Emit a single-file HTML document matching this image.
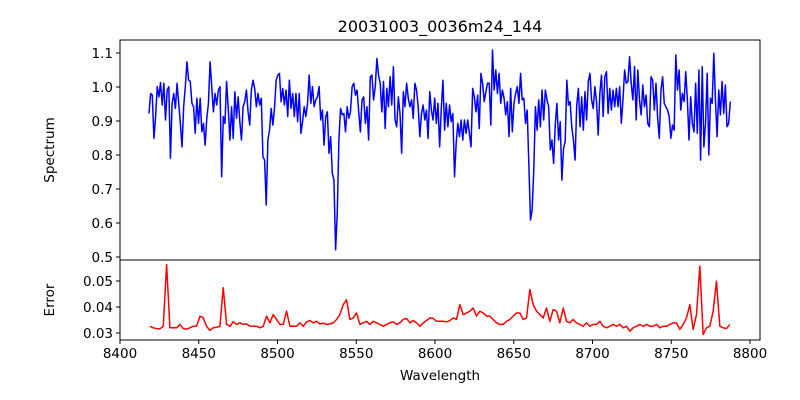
<!DOCTYPE html>
<html><head><meta charset="utf-8"><style>
html,body{margin:0;padding:0;background:#fff;}
svg{display:block;font-family:"DejaVu Sans","Liberation Sans",sans-serif;}
</style></head><body>
<svg id="chart" width="800" height="400" viewBox="0 0 800 400" xmlns="http://www.w3.org/2000/svg">
<rect width="800" height="400" fill="#fff"/>
<text x="440" y="32" font-size="16" text-anchor="middle">20031003_0036m24_144</text>
<text transform="translate(54,150) rotate(-90)" font-size="13.5" text-anchor="middle">Spectrum</text>
<text transform="translate(54,300) rotate(-90)" font-size="13.5" text-anchor="middle">Error</text>
<text x="440" y="380" font-size="13.5" text-anchor="middle">Wavelength</text>
<g id="g"></g>
</svg>
<script>
const specStart = 8418.4, specEnd = 8787.5;
const specValues = [
.922,.981,.976,.849,.913,1.001,.971,1.013,.947,1.011,.903,.991,1.001,.790,.952,.981,.937,1.011,.952,.893,.824,.942,1.001,1.074,1.020,1.016,.952,.942,.864,.967,.893,.967,.868,.893,.829,.908,.952,1.074,1.001,.927,.981,.947,.991,1.001,.736,.913,.893,1.016,.937,.844,.942,.849,.986,.908,.971,.898,.844,.942,.957,.991,.927,.888,.991,1.020,.996,.942,.981,.947,.967,.795,.785,.653,.844,.873,.937,.888,.937,1.020,1.035,1.040,.957,.996,.947,.991,.913,1.020,.937,.981,.913,.981,.898,.981,.864,.898,.942,.913,.952,1.035,.952,1.001,.942,.962,.971,1.001,.903,.932,.829,.913,.927,.805,
.854,.746,.726,.521,.628,.844,.937,.918,.922,.868,.942,.908,.927,1.001,1.011,.976,.991,.927,.868,.962,.971,.893,.942,.844,1.030,1.035,.962,1.001,1.084,1.035,1.011,.927,1.016,.878,.996,.942,1.030,.947,1.060,.903,.883,.971,.922,.805,.986,.942,1.011,.967,.942,.962,.908,1.011,.991,.942,.854,.922,.947,.903,.932,.849,.986,.932,.903,.967,.893,.952,.824,.937,1.020,.873,.952,.883,.947,.898,.922,.736,.834,.893,.854,.903,.844,.903,.864,.903,.864,.824,.996,.971,.927,.976,.878,1.040,1.011,.957,.986,1.011,1.011,.888,1.109,.991,1.050,.981,1.040,.952,.991,.967,.918,.957,.854,.996,.868,.952,.981,1.001,.952,1.040,.962,.967,.893,.932,.775,.609,.638,.756,.942,.873,.962,.883,.991,.903,.991,.962,
.942,.815,.844,.775,.888,.952,.844,.898,.726,.819,.839,1.020,.947,.957,.883,.844,.785,.947,.996,.883,.971,.873,.986,.903,1.016,1.040,.962,.937,1.001,.957,.859,.981,1.035,.913,1.030,1.045,.922,.996,.932,.991,.942,.996,.942,1.001,.893,.962,1.050,1.011,1.016,1.089,1.011,.962,1.060,.903,1.050,.962,.918,1.006,.942,.976,.893,.883,1.030,1.020,.932,1.011,.908,.849,.991,1.030,.952,.942,.932,.913,.849,.888,.873,1.094,.991,1.050,.932,.981,.957,1.045,.962,.844,.971,.893,.868,1.011,.864,1.050,.785,1.060,.824,.893,1.040,.800,.967,.952,1.099,.962,.854,.991,.918,1.016,.922,1.006,.883,.893,.957];
const errStart = 8419.0, errStep = 2.116;
const errValues = [
.0326,.0320,.0317,.0316,.0326,.0563,.0320,.0320,.0320,.0333,.0317,.0315,.0320,.0326,.0326,.0365,.0358,.0326,.0310,.0320,.0322,.0326,.0474,.0333,.0326,.0343,.0333,.0339,.0333,.0335,.0326,.0326,.0326,.0320,.0326,.0365,.0339,.0371,.0352,.0333,.0333,.0384,.0326,.0326,.0326,.0339,.0326,.0343,.0348,.0339,.0345,.0335,.0338,.0333,.0335,.0339,.0352,.0371,.0409,.0428,.0352,.0358,.0377,.0333,.0339,.0345,.0333,.0345,.0339,.0333,.0326,.0333,.0339,.0343,.0333,.0339,.0352,.0356,.0339,.0348,.0339,.0326,.0339,.0348,.0358,.0356,.0345,.0345,
.0345,.0343,.0348,.0358,.0352,.0409,.0371,.0377,.0384,.0396,.0365,.0384,.0377,.0365,.0365,.0352,.0339,.0333,.0333,.0345,.0352,.0365,.0377,.0377,.0352,.0358,.0467,.0409,.0384,.0371,.0358,.0396,.0345,.0390,.0384,.0339,.0396,.0345,.0339,.0352,.0339,.0333,.0326,.0339,.0326,.0333,.0333,.0345,.0326,.0320,.0326,.0333,.0326,.0333,.0320,.0326,.0307,.0320,.0326,.0333,.0326,.0333,.0326,.0326,.0333,.0320,.0326,.0326,.0333,.0339,.0339,.0314,.0333,.0358,.0409,.0314,.0371,.0557,.0294,.0320,.0326,.0384,.0499,.0326,.0320,.0317,.0333];
const xTicks = [8400,8450,8500,8550,8600,8650,8700,8750,8800];
const specTicks = [0.5,0.6,0.7,0.8,0.9,1.0,1.1];
const specTickLabels = ["0.5","0.6","0.7","0.8","0.9","1.0","1.1"];
const errTicks = [0.03,0.04,0.05];
const errTickLabels = ["0.03","0.04","0.05"];

const L=120,R=760,T=40,M=260,B=340;
const xScale = w => L + (w-8400)*(630/400);
const ySpec = v => 257 - (v-0.5)*340;
const yErr = v => 333 - (v-0.03)*2600;
const NS='http://www.w3.org/2000/svg';
const g=document.getElementById('g');
function mk(tag,attrs){const e=document.createElementNS(NS,tag);for(const k in attrs)e.setAttribute(k,attrs[k]);g.appendChild(e);return e;}

// spectrum line
let d='';
const sStep=(specEnd-specStart)/(specValues.length-1);
specValues.forEach((v,i)=>{d+=(i?'L':'M')+xScale(specStart+i*sStep).toFixed(2)+','+ySpec(v).toFixed(2);});
const sp=mk('path',{d:d,fill:'none',stroke:'#0000ff','stroke-width':1.5,'stroke-linejoin':'round'});


// error line
d='';
errValues.forEach((v,i)=>{d+=(i?'L':'M')+xScale(errStart+i*errStep).toFixed(2)+','+yErr(v).toFixed(2);});
const er=mk('path',{d:d,fill:'none',stroke:'#ff0000','stroke-width':1.5,'stroke-linejoin':'round'});



// frames
const f1=mk('rect',{x:L,y:T,width:R-L,height:M-T,fill:'none',stroke:'#000','stroke-width':1});


const f2=mk('rect',{x:L,y:M,width:R-L,height:B-M,fill:'none',stroke:'#000','stroke-width':1});



xTicks.forEach(t=>{
  const x=xScale(t);
  const tk=mk('line',{x1:x,x2:x,y1:B,y2:B+4,stroke:'#000'});
  
  
  const tx=mk('text',{x:x,y:B+18,'font-size':13.5,'text-anchor':'middle'});
  tx.textContent=String(t);
  
  
});
specTicks.forEach((t,i)=>{
  const y=ySpec(t);
  const tk=mk('line',{x1:L-4,x2:L,y1:y,y2:y,stroke:'#000'});
  
  
  const tx=mk('text',{x:L-7,y:y+5,'font-size':13.5,'text-anchor':'end'});
  tx.textContent=specTickLabels[i];
  
  
});
errTicks.forEach((t,i)=>{
  const y=yErr(t);
  const tk=mk('line',{x1:L-4,x2:L,y1:y,y2:y,stroke:'#000'});
  
  
  const tx=mk('text',{x:L-7,y:y+5,'font-size':13.5,'text-anchor':'end'});
  tx.textContent=errTickLabels[i];
  
  
});
</script>
</body></html>
